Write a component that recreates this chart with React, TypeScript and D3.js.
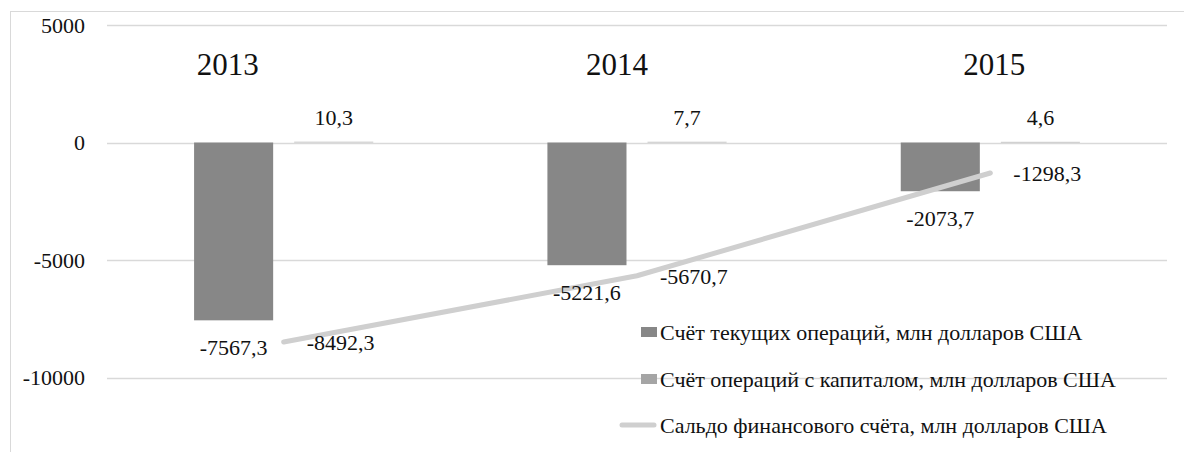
import React from 'react';
import * as d3 from 'd3';

// Chart data
const years = ['2013', '2014', '2015'];
const currentAccount = [-7567.3, -5221.6, -2073.7];
const capitalAccount = [10.3, 7.7, 4.6];
const financialBalance = [-8492.3, -5670.7, -1298.3];
const yTicks = [5000, 0, -5000, -10000];
const seriesNames = [
  'Счёт текущих операций, млн долларов США',
  'Счёт операций с капиталом, млн долларов США',
  'Сальдо финансового счёта, млн долларов США',
];

const width = 1184;
const height = 452;
const font = "'Liberation Serif', 'Times New Roman', serif";
const fmt = (v: number) => String(v).replace('.', ',');

// year titles sit a little off the category centre in the original
const yearLabelShift = [-56, -20, 4];

const App = () => {
  const x = d3.scaleBand<string>().domain(years).range([107, 1167]).padding(0);
  const sub = d3
    .scaleBand<string>()
    .domain(['cur', 'cap'])
    .range([0, x.bandwidth()])
    .paddingInner(0.21)
    .paddingOuter(0.87);
  const y = d3.scaleLinear().domain([-15000, 5000]).range([495, 25]);

  const cx = (i: number) => (x(years[i]) ?? 0) + x.bandwidth() / 2;

  const line = d3
    .line<number>()
    .x((_, i) => cx(i))
    .y((d) => y(d));

  // legend box
  const legendTextX = 660;
  const legendY = [332, 379, 425];
  const ts = { fontFamily: font };

  return (
    <svg width={width} height={height} style={{ position: 'absolute', left: 0, top: 0, background: '#fff' }}>
      {/* outer frame (runs past the crop) */}
      <rect x={10.5} y={11.5} width={1200} height={460} fill="none" stroke="#d9d9d9" />

      {/* gridlines */}
      {yTicks.map((t) => (
        <line
          key={t}
          x1={107}
          x2={1167}
          y1={Math.round(y(t)) + 0.5}
          y2={Math.round(y(t)) + 0.5}
          stroke="#d9d9d9"
          strokeWidth={1.5}
        />
      ))}

      {/* y tick labels */}
      {yTicks.map((t) => (
        <text key={t} x={85} y={y(t) + 7.5} textAnchor="end" fontSize={22} fill="#111" style={ts}>
          {t}
        </text>
      ))}

      {/* year titles */}
      {years.map((yr, i) => (
        <text
          key={yr}
          x={cx(i) + yearLabelShift[i]}
          y={75}
          textAnchor="middle"
          fontSize={31}
          fill="#111"
          style={ts}
        >
          {yr}
        </text>
      ))}

      {/* bars */}
      {years.map((yr, i) => {
        const x0 = x(yr) ?? 0;
        const v = currentAccount[i];
        return (
          <rect
            key={'c' + yr}
            x={x0 + (sub('cur') ?? 0)}
            y={y(Math.max(0, v))}
            width={sub.bandwidth()}
            height={Math.abs(y(v) - y(0))}
            fill="#878787"
          />
        );
      })}
      {years.map((yr, i) => {
        const x0 = x(yr) ?? 0;
        const v = capitalAccount[i];
        return (
          <rect
            key={'k' + yr}
            x={x0 + (sub('cap') ?? 0)}
            y={y(v) - 0.6}
            width={sub.bandwidth()}
            height={Math.max(1, Math.abs(y(v) - y(0)))}
            fill="#c8c8c8"
          />
        );
      })}

      {/* financial balance line */}
      <path
        d={line(financialBalance) ?? ''}
        fill="none"
        stroke="#cfcfcf"
        strokeWidth={5}
        strokeLinecap="round"
        strokeLinejoin="round"
      />

      {/* data labels */}
      {years.map((yr, i) => (
        <text
          key={'lc' + yr}
          x={(x(yr) ?? 0) + (sub('cur') ?? 0) + sub.bandwidth() / 2}
          y={y(currentAccount[i]) + 35}
          textAnchor="middle"
          fontSize={22}
          fill="#111"
          style={ts}
        >
          {fmt(currentAccount[i])}
        </text>
      ))}
      {years.map((yr, i) => (
        <text
          key={'lk' + yr}
          x={(x(yr) ?? 0) + (sub('cap') ?? 0) + sub.bandwidth() / 2}
          y={y(capitalAccount[i]) - 17}
          textAnchor="middle"
          fontSize={22}
          fill="#111"
          style={ts}
        >
          {fmt(capitalAccount[i])}
        </text>
      ))}
      {years.map((yr, i) => (
        <text
          key={'lf' + yr}
          x={cx(i) + 23}
          y={y(financialBalance[i]) + 8}
          textAnchor="start"
          fontSize={22}
          fill="#111"
          style={ts}
        >
          {fmt(financialBalance[i])}
        </text>
      ))}

      {/* legend */}
      <rect x={legendTextX - 19} y={legendY[0] - 5} width={16} height={10} fill="#878787" />
      <rect x={legendTextX - 19} y={legendY[1] - 5} width={16} height={10} fill="#a5a5a5" />
      <line
        x1={legendTextX - 38}
        x2={legendTextX - 6}
        y1={legendY[2]}
        y2={legendY[2]}
        stroke="#cfcfcf"
        strokeWidth={5}
        strokeLinecap="round"
      />
      {seriesNames.map((name, i) => (
        <text key={name} x={legendTextX} y={legendY[i] + 7.5} fontSize={22} fill="#111" style={ts}>
          {name}
        </text>
      ))}
    </svg>
  );
};

export default App;
